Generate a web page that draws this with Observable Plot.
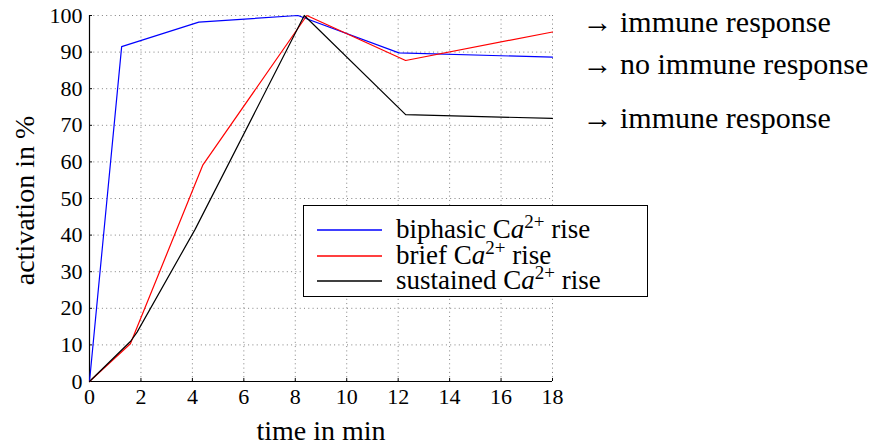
<!DOCTYPE html>
<html>
<head>
<meta charset="utf-8">
<script src="https://cdn.jsdelivr.net/npm/d3@7"></script>
<script src="https://cdn.jsdelivr.net/npm/@observablehq/plot@0.6"></script>
<style>
  html, body { margin: 0; padding: 0; background: #fff; }
  #wrap { position: relative; width: 869px; height: 447px; font-family: "Liberation Serif", "DejaVu Serif", serif; }
  #legend {
    position: absolute; left: 303px; top: 205px; width: 345px; height: 92px;
    background: #fff; border: 1.3px solid #000; box-sizing: border-box;
    font-size: 27px; line-height: 25.7px; padding-top: 11px;
  }
  #legend .row { display: flex; align-items: center; height: 25.7px; white-space: nowrap; }
  #legend svg { display: block; flex: none; margin-left: 13px; margin-right: 14px; }
  #legend sup { font-size: 19px; line-height: 0; vertical-align: 10px; }
</style>
</head>
<body>
<div id="wrap"></div>
<script>
// Activation time courses (minutes, percent)
const biphasicTime = [0, 1.25, 4.25, 8.1, 12.03, 18];
const biphasicValue = [0, 91.5, 98.2, 100, 89.8, 88.6];

const briefTime = [0, 1.59, 4.41, 8.45, 12.29, 18];
const briefValue = [0, 10.3, 59.2, 100, 87.7, 95.5];

const sustainedTime = [0, 1.6, 1.85, 4.1, 8.35, 12.29, 18];
const sustainedValue = [0, 11, 13.5, 41.5, 100, 72.9, 71.9];

const seriesNames = ["biphasic", "brief", "sustained"];
const seriesColors = ["#0000ff", "#ff0000", "#000000"];

// Outcome notes to the right of the plot
const outcomeText = ["→ immune response", "→ no immune response", "→ immune response"];
const outcomeAt = [98.1, 86.6, 72.0];

const xTicks = [0, 2, 4, 6, 8, 10, 12, 14, 16, 18];
const yTicks = [0, 10, 20, 30, 40, 50, 60, 70, 80, 90, 100];

const toRows = (name, t, v) => t.map((x, i) => ({series: name, time: x, value: v[i]}));
const rows = [
  ...toRows("biphasic", biphasicTime, biphasicValue),
  ...toRows("brief", briefTime, briefValue),
  ...toRows("sustained", sustainedTime, sustainedValue)
];
const notes = outcomeText.map((t, i) => ({text: t, y: outcomeAt[i]}));

const font = '"Liberation Serif", "DejaVu Serif", serif';

const chart = Plot.plot({
  width: 869,
  height: 447,
  marginLeft: 89,
  marginRight: 317,
  marginTop: 15,
  marginBottom: 66,
  style: {fontFamily: font, fontSize: "22px", color: "#000", background: "#fff", overflow: "visible"},
  x: {domain: [0, 18], ticks: xTicks},
  y: {domain: [0, 100], ticks: yTicks},
  color: {domain: seriesNames, range: seriesColors},
  marks: [
    Plot.gridX(xTicks, {stroke: "#808080", strokeOpacity: 1, strokeWidth: 1, strokeDasharray: "1,3.3"}),
    Plot.gridY(yTicks, {stroke: "#808080", strokeOpacity: 1, strokeWidth: 1, strokeDasharray: "1,3.3"}),
    Plot.axisX(xTicks, {tickSize: -3, tickPadding: 10, label: null, fontSize: 22}),
    Plot.axisY(yTicks, {tickSize: -3, tickPadding: 10, label: null, fontSize: 22}),
    Plot.ruleX([0], {stroke: "#000", strokeWidth: 1.2}),
    Plot.ruleY([0], {stroke: "#000", strokeWidth: 1.2}),
    Plot.line(rows, {x: "time", y: "value", z: "series", stroke: "series", strokeWidth: 1.2}),
    Plot.text(notes, {x: 18, y: "y", text: "text", textAnchor: "start", dx: 30, fontSize: 30}),
    Plot.text(["time in min"], {frameAnchor: "bottom", textAnchor: "middle", lineAnchor: "middle", dy: 50, fontSize: 28}),
    Plot.text(["activation in %"], {frameAnchor: "left", textAnchor: "middle", lineAnchor: "middle", rotate: -90, dx: -64, dy: 2, fontSize: 28})
  ]
});

const wrap = document.getElementById("wrap");
wrap.appendChild(chart);

// Legend box drawn over the plot area
const legend = document.createElement("div");
legend.id = "legend";
seriesNames.forEach((name, i) => {
  const row = document.createElement("div");
  row.className = "row";
  row.innerHTML =
    `<svg width="65" height="4"><line x1="0" x2="65" y1="2" y2="2" stroke="${seriesColors[i]}" stroke-width="1.3"/></svg>` +
    `<span>${name} C<i>a</i><sup>2+</sup> rise</span>`;
  legend.appendChild(row);
});
wrap.appendChild(legend);
</script>
</body>
</html>
